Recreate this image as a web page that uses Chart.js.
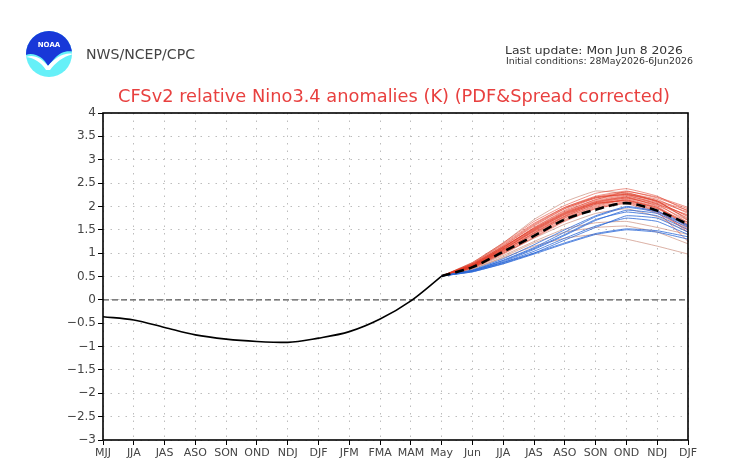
<!DOCTYPE html>
<html>
<head>
<meta charset="utf-8">
<script src="https://cdn.jsdelivr.net/npm/chart.js@4/dist/chart.umd.min.js"></script>
<style>
  html, body { margin: 0; padding: 0; background: #fff; }
  #wrap { position: relative; width: 742px; height: 472px; }
  #c { position: absolute; left: 0; top: 0; }
  #hdr { position: absolute; left: 0; top: 0; pointer-events: none; }
</style>
</head>
<body>
<div id="wrap">
  <canvas id="c" width="742" height="472"></canvas>
  <svg id="hdr" width="742" height="472" xmlns="http://www.w3.org/2000/svg">
    <defs><clipPath id="lc"><circle cx="49" cy="54" r="23"/></clipPath></defs>
    <g clip-path="url(#lc)">
      <rect x="20" y="25" width="60" height="60" fill="#66f0f8"/>
      <path d="M24,30 L74,30 L74,52 C66,50 60,53 55,58 C52,61 50,64 48,66 C46,62 42,57 36,55 C31,53 27,54 24,56 Z" fill="#1838d8"/>
      <path d="M26,57 C33,54 41,57 48,66 C55,58 64,52 74,54 C64,56 56,62 50,70 L46,70 C41,62 34,58 26,57 Z" fill="#ffffff"/>
    </g>
    <text x="49" y="47" font-family="DejaVu Sans" font-size="7" font-weight="bold" fill="#ffffff" text-anchor="middle">NOAA</text>
    <text x="86" y="59" font-family="DejaVu Sans" font-size="13.5" fill="#444" textLength="109" lengthAdjust="spacingAndGlyphs">NWS/NCEP/CPC</text>
    <text x="505" y="54" font-family="DejaVu Sans" font-size="10.5" fill="#333" textLength="178" lengthAdjust="spacingAndGlyphs">Last update: Mon Jun 8 2026</text>
    <text x="506" y="64" font-family="DejaVu Sans" font-size="8.5" fill="#333" textLength="187" lengthAdjust="spacingAndGlyphs">Initial conditions: 28May2026-6Jun2026</text>
    <text x="118" y="102" font-family="DejaVu Sans" font-size="17" fill="#e8403f" textLength="552" lengthAdjust="spacingAndGlyphs">CFSv2 relative Nino3.4 anomalies (K) (PDF&amp;Spread corrected)</text>
  </svg>
</div>
<script>
// ---- Data ----
const categories = ['MJJ','JJA','JAS','ASO','SON','OND','NDJ','DJF','JFM','FMA','MAM','May','Jun','JJA','JAS','ASO','SON','OND','NDJ','DJF'];
const yTicks = [-3,-2.5,-2,-1.5,-1,-0.5,0,0.5,1,1.5,2,2.5,3,3.5,4];

// observed (MJJ .. May)
const observed = [-0.36,-0.43,-0.59,-0.75,-0.84,-0.89,-0.91,-0.82,-0.68,-0.41,-0.02,0.51];

// forecast values from May (index 11) to DJF (index 19)
const forecastStart = 11;
const ensembleMean = [0.51,0.70,1.03,1.37,1.72,1.93,2.07,1.91,1.62];

const redMembers = [
  [0.51,0.80,1.22,1.68,2.02,2.28,2.38,2.22,1.90],
  [0.51,0.78,1.18,1.62,1.98,2.22,2.33,2.18,1.95],
  [0.51,0.76,1.15,1.58,1.95,2.20,2.30,2.10,1.78],
  [0.51,0.75,1.12,1.55,1.92,2.18,2.28,2.15,1.85],
  [0.51,0.77,1.14,1.52,1.88,2.15,2.26,2.12,1.72],
  [0.51,0.74,1.10,1.50,1.86,2.12,2.24,2.05,1.65],
  [0.51,0.73,1.08,1.48,1.84,2.10,2.22,2.08,1.80],
  [0.51,0.72,1.07,1.46,1.80,2.08,2.20,2.00,1.60],
  [0.51,0.74,1.12,1.54,1.90,2.14,2.32,2.20,1.98],
  [0.51,0.71,1.05,1.44,1.78,2.05,2.18,2.02,1.70],
  [0.51,0.72,1.06,1.42,1.76,2.02,2.16,1.98,1.55],
  [0.51,0.70,1.03,1.40,1.75,2.00,2.14,1.95,1.62],
  [0.51,0.76,1.16,1.60,1.96,2.18,2.26,2.10,1.88],
  [0.51,0.73,1.09,1.47,1.82,2.06,2.12,1.92,1.45],
  [0.51,0.70,1.02,1.38,1.72,1.98,2.10,1.90,1.52],
  [0.51,0.69,1.00,1.35,1.70,1.96,2.08,1.88,1.25],
  [0.51,0.75,1.13,1.53,1.87,2.10,2.20,2.06,1.75],
  [0.51,0.78,1.20,1.64,1.98,2.20,2.25,2.12,1.92],
  [0.51,0.71,1.04,1.43,1.79,2.04,2.14,1.96,1.66],
  [0.51,0.74,1.11,1.51,1.85,2.08,2.18,2.04,1.82],
  [0.51,0.72,1.08,1.49,1.83,2.07,2.12,1.98,1.58],
  [0.51,0.68,0.98,1.33,1.68,1.95,2.06,1.85,1.50]
];
const blueMembers = [
  [0.51,0.62,0.82,1.08,1.38,1.70,1.92,1.85,1.55],
  [0.51,0.63,0.85,1.12,1.45,1.78,1.98,1.88,1.58],
  [0.51,0.60,0.78,1.00,1.28,1.55,1.80,1.75,1.45],
  [0.51,0.61,0.80,1.04,1.32,1.58,1.75,1.68,1.40],
  [0.51,0.62,0.80,1.00,1.22,1.42,1.52,1.48,1.35],
  [0.51,0.64,0.88,1.18,1.50,1.80,2.00,1.90,1.60],
  [0.51,0.60,0.77,0.98,1.20,1.40,1.50,1.45,1.30],
  [0.51,0.63,0.84,1.10,1.40,1.72,1.88,1.80,1.50]
];
const paleMembers = [
  [0.51,0.66,0.90,1.15,1.32,1.40,1.30,1.15,0.98],
  [0.51,0.68,0.95,1.25,1.52,1.65,1.68,1.55,1.40],
  [0.51,0.80,1.22,1.72,2.10,2.33,2.28,2.12,1.70],
  [0.51,0.66,0.92,1.22,1.45,1.55,1.58,1.45,1.20],
  [0.51,0.70,1.00,1.32,1.62,1.85,1.95,1.78,1.45]
];

// ---- Build datasets ----
const pad = v => Array(forecastStart).fill(null).concat(v);
const memberDs = (v, color, width, order) => ({
  data: pad(v), borderColor: color, borderWidth: width, pointRadius: 0,
  tension: 0.1, fill: false, order: order
});

const datasets = [];
datasets.push({ data: pad(ensembleMean), borderColor: '#000', borderWidth: 2.6, borderDash: [9,5],
  pointRadius: 0, tension: 0.3, fill: false, order: 0 });
datasets.push({ data: observed, borderColor: '#000', borderWidth: 1.6, pointRadius: 0,
  cubicInterpolationMode: 'monotone', fill: false, order: 1 });
paleMembers.forEach(m => datasets.push(memberDs(m, 'rgba(195,125,105,0.6)', 1, 4)));
redMembers.forEach(m => datasets.push(memberDs(m, 'rgba(225,55,35,0.6)', 0.9, 3)));
blueMembers.forEach(m => datasets.push(memberDs(m, 'rgba(45,105,215,0.8)', 1, 2)));

const framePlugin = {
  id: 'frame',
  beforeDatasetsDraw(chart) {
    const { ctx, chartArea: a, scales: { y } } = chart;
    const y0 = y.getPixelForValue(0);
    ctx.save();
    ctx.strokeStyle = '#555';
    ctx.lineWidth = 1.3;
    ctx.setLineDash([6,3]);
    ctx.beginPath();
    ctx.moveTo(a.left, y0);
    ctx.lineTo(a.right, y0);
    ctx.stroke();
    ctx.restore();
  },
  afterDatasetsDraw(chart) {
    const { ctx, chartArea: a } = chart;
    ctx.save();
    ctx.strokeStyle = '#000';
    ctx.lineWidth = 1.6;
    ctx.setLineDash([]);
    ctx.strokeRect(a.left, a.top, a.right - a.left, a.bottom - a.top);
    ctx.restore();
  }
};

new Chart(document.getElementById('c'), {
  type: 'line',
  data: { labels: categories, datasets: datasets },
  options: {
    responsive: false,
    animation: false,
    events: [],
    layout: { padding: { left: 0, right: 54, top: 113, bottom: 0 } },
    plugins: { legend: { display: false }, tooltip: { enabled: false }, title: { display: false } },
    scales: {
      x: {
        type: 'category',
        offset: false,
        afterFit(s) { s.height = 32; },
        grid: { color: '#bdbdbd', lineWidth: 1, tickColor: '#000', tickLength: 5, tickWidth: 1 },
        border: { display: false, dash: [1.5,6] },
        ticks: { autoSkip: false, maxRotation: 0, padding: 2, color: '#444',
          font: { family: 'DejaVu Sans', size: 11 } }
      },
      y: {
        type: 'linear',
        min: yTicks[0], max: yTicks[yTicks.length - 1],
        afterFit(s) { s.width = 103; },
        afterBuildTicks(s) { s.ticks = yTicks.map(v => ({ value: v })); },
        grid: { color: '#bdbdbd', lineWidth: 1, tickColor: '#000', tickLength: 5, tickWidth: 1 },
        border: { display: false, dash: [1.5,6] },
        ticks: { padding: 2, color: '#444', font: { family: 'DejaVu Sans', size: 12 },
          callback: v => String(v).replace('-', '\u2212') }
      }
    }
  },
  plugins: [framePlugin]
});
</script>
</body>
</html>
